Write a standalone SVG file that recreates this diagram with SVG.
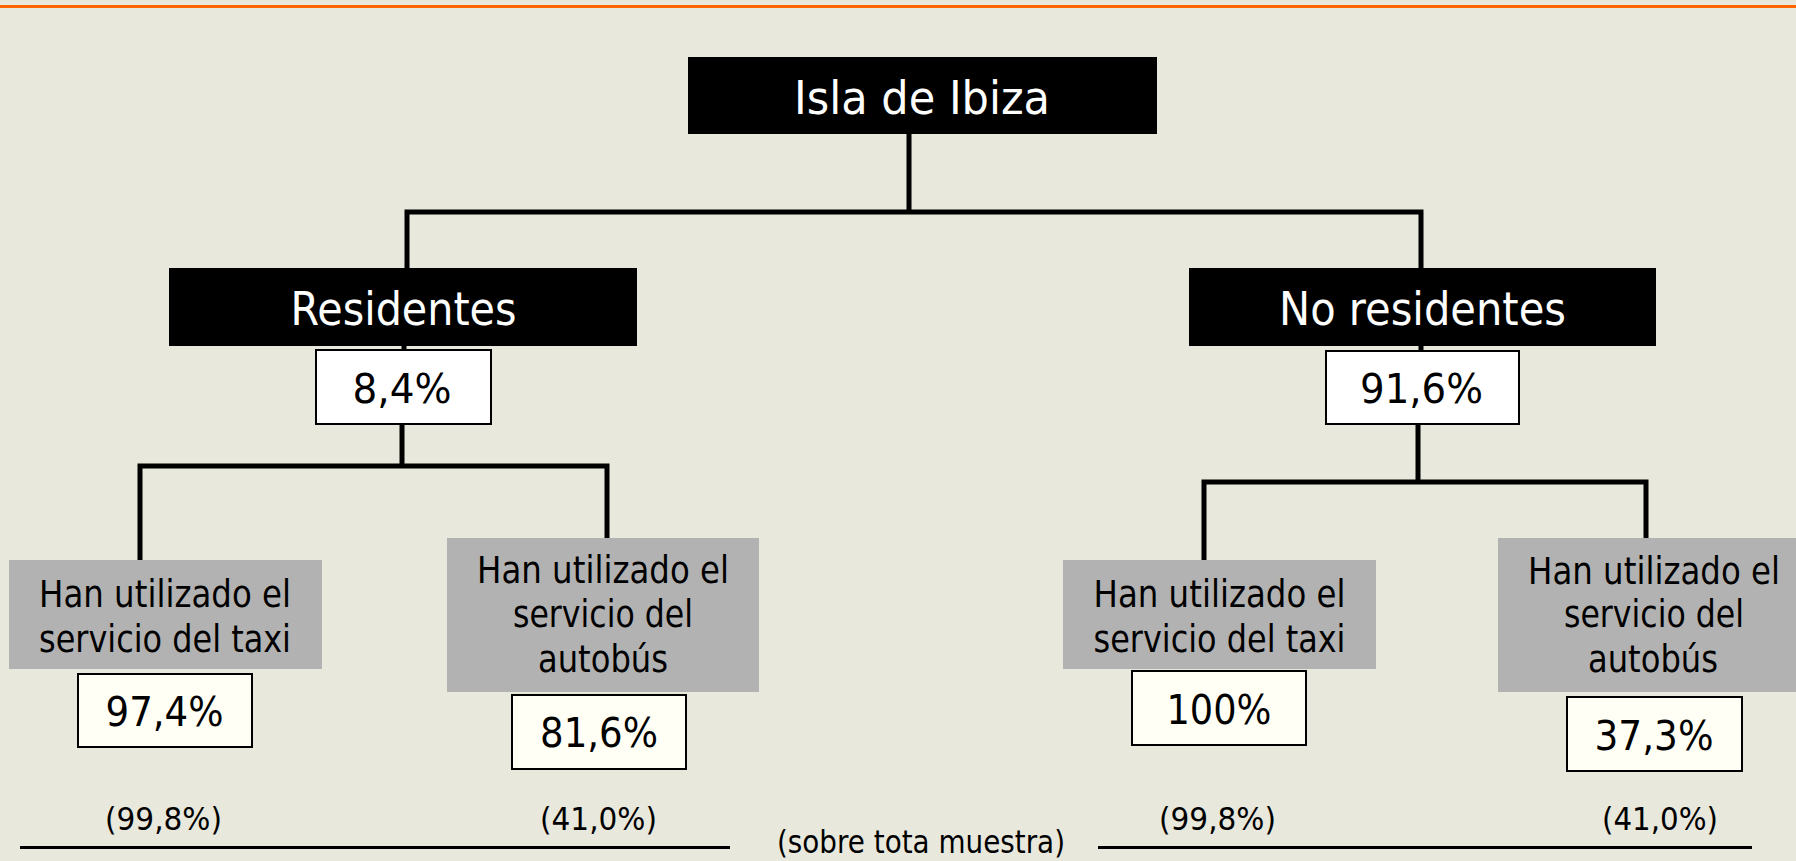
<svg xmlns="http://www.w3.org/2000/svg" width="1796" height="861" viewBox="0 0 1796 861">
<style>
text{font-family:"DejaVu Sans","Liberation Sans",sans-serif;text-anchor:middle;}
.t{fill:#fff;font-size:46px;}
.g{fill:#000;font-size:37px;}
.v{fill:#000;font-size:41px;}
.b{fill:#000;font-size:32px;}
.hb{fill:#000;}
.gb{fill:#b2b2b2;}
.vb{fill:#fffff5;stroke:#000;stroke-width:2;}
.wb{fill:#fff;stroke:#000;stroke-width:2;}
.c{stroke:#000;stroke-width:5;fill:none;stroke-linecap:square;}
.r{stroke:#000;stroke-width:3;}
</style>
<rect x="0" y="0" width="1796" height="861" fill="#e8e8dc"/>
<rect x="0" y="5" width="1796" height="3" fill="#ff6600"/>
<g id="connectors">
<path class="c" d="M909 134V212M407 212H1421M407 212V268M1421 212V268"/>
<path class="c" d="M404 346V350M402 424V466M140 466H607M140 466V560M607 466V538"/>
<path class="c" d="M1421 346V351M1418 424V482M1204 482H1646M1204 482V560M1646 482V538"/>
</g>
<g id="isla">
<rect class="hb" x="688" y="57" width="469" height="77"/>
<text class="t" x="922" y="114" font-size="47" textLength="256" lengthAdjust="spacingAndGlyphs">Isla de Ibiza</text>
</g>
<g id="residentes">
<rect class="hb" x="169" y="268" width="468" height="78"/>
<text class="t" x="403.5" y="325" textLength="226" lengthAdjust="spacingAndGlyphs">Residentes</text>
</g>
<g id="res-pct">
<rect class="wb" x="316" y="350" width="175" height="74"/>
<text class="v" x="402" y="403" textLength="99" lengthAdjust="spacingAndGlyphs">8,4%</text>
</g>
<g id="noresidentes">
<rect class="hb" x="1189" y="268" width="467" height="78"/>
<text class="t" x="1422.5" y="325" textLength="287" lengthAdjust="spacingAndGlyphs">No residentes</text>
</g>
<g id="nores-pct">
<rect class="wb" x="1326" y="351" width="193" height="73"/>
<text class="v" x="1421.5" y="403" textLength="123" lengthAdjust="spacingAndGlyphs">91,6%</text>
</g>
<g id="res-taxi">
<rect class="gb" x="9" y="560" width="313" height="109"/>
<text class="g" x="165" y="607" textLength="252" lengthAdjust="spacingAndGlyphs">Han utilizado el</text>
<text class="g" x="165" y="652" textLength="252" lengthAdjust="spacingAndGlyphs">servicio del taxi</text>
</g>
<g id="res-taxi-pct">
<rect class="vb" x="78" y="674" width="174" height="73"/>
<text class="v" x="164.5" y="726" textLength="118" lengthAdjust="spacingAndGlyphs">97,4%</text>
</g>
<g id="res-bus">
<rect class="gb" x="447" y="538" width="312" height="154"/>
<text class="g" x="603" y="583" textLength="252" lengthAdjust="spacingAndGlyphs">Han utilizado el</text>
<text class="g" x="603" y="627" textLength="180" lengthAdjust="spacingAndGlyphs">servicio del</text>
<text class="g" x="603" y="672" textLength="130" lengthAdjust="spacingAndGlyphs">autobús</text>
</g>
<g id="res-bus-pct">
<rect class="vb" x="512" y="695" width="174" height="74"/>
<text class="v" x="599" y="747" textLength="118" lengthAdjust="spacingAndGlyphs">81,6%</text>
</g>
<g id="nores-taxi">
<rect class="gb" x="1063" y="560" width="313" height="109"/>
<text class="g" x="1219.5" y="607" textLength="252" lengthAdjust="spacingAndGlyphs">Han utilizado el</text>
<text class="g" x="1219.5" y="652" textLength="252" lengthAdjust="spacingAndGlyphs">servicio del taxi</text>
</g>
<g id="nores-taxi-pct">
<rect class="vb" x="1132" y="671" width="174" height="74"/>
<text class="v" x="1219" y="724" textLength="105" lengthAdjust="spacingAndGlyphs">100%</text>
</g>
<g id="nores-bus">
<rect class="gb" x="1498" y="538" width="298" height="154"/>
<text class="g" x="1654" y="584" textLength="252" lengthAdjust="spacingAndGlyphs">Han utilizado el</text>
<text class="g" x="1654" y="627" textLength="180" lengthAdjust="spacingAndGlyphs">servicio del</text>
<text class="g" x="1653" y="672" textLength="130" lengthAdjust="spacingAndGlyphs">autobús</text>
</g>
<g id="nores-bus-pct">
<rect class="vb" x="1567" y="697" width="175" height="74"/>
<text class="v" x="1654" y="750" textLength="119" lengthAdjust="spacingAndGlyphs">37,3%</text>
</g>
<g id="footer">
<text class="b" x="163.5" y="830" textLength="117" lengthAdjust="spacingAndGlyphs">(99,8%)</text>
<text class="b" x="598.5" y="830" textLength="117" lengthAdjust="spacingAndGlyphs">(41,0%)</text>
<text class="b" x="1217.5" y="830" textLength="117" lengthAdjust="spacingAndGlyphs">(99,8%)</text>
<text class="b" x="1660" y="830" textLength="116" lengthAdjust="spacingAndGlyphs">(41,0%)</text>
<text class="b" x="921" y="853" textLength="288" lengthAdjust="spacingAndGlyphs">(sobre tota muestra)</text>
<line class="r" x1="20" y1="847.5" x2="730" y2="847.5"/>
<line class="r" x1="1098" y1="847.5" x2="1752" y2="847.5"/>
</g>
</svg>
